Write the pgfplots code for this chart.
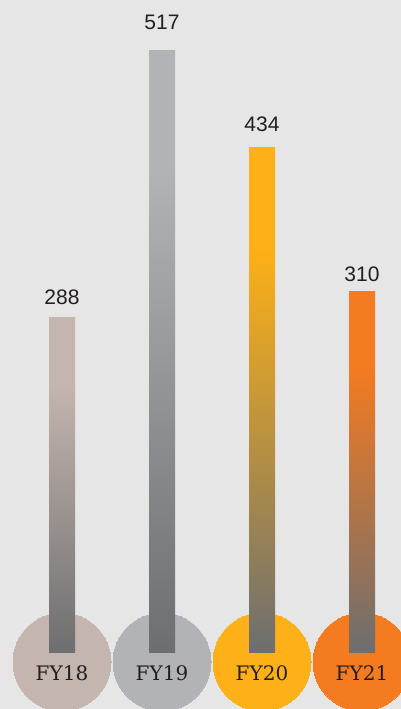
\documentclass[border=0pt]{standalone}
\usepackage{pgfplots}
\pgfplotsset{compat=1.18}
\usepackage{fontspec}
\setmainfont{Liberation Sans}
\newfontfamily\slab{DejaVu Serif}
\definecolor{bg}{HTML}{E6E6E6}
\definecolor{cA}{HTML}{C4B5AE}
\definecolor{cB}{HTML}{B1B3B6}
\definecolor{cC}{HTML}{FDB017}
\definecolor{cD}{HTML}{F47B20}
\definecolor{cbot}{HTML}{6D6E70}
\definecolor{txt}{HTML}{231F20}
\pgfdeclareverticalshading{shA}{100bp}{color(0bp)=(cbot); color(25bp)=(cbot); color(65bp)=(cA); color(100bp)=(cA)}
\pgfdeclareverticalshading{shB}{100bp}{color(0bp)=(cbot); color(25bp)=(cbot); color(65bp)=(cB); color(100bp)=(cB)}
\pgfdeclareverticalshading{shC}{100bp}{color(0bp)=(cbot); color(25bp)=(cbot); color(65bp)=(cC); color(100bp)=(cC)}
\pgfdeclareverticalshading{shD}{100bp}{color(0bp)=(cbot); color(25bp)=(cbot); color(65bp)=(cD); color(100bp)=(cD)}
\begin{document}
\begin{tikzpicture}[x=1pt,y=1pt]
\useasboundingbox (0,0) rectangle (401,709);
\clip (0,0) rectangle (401,709);
\fill[bg] (0,0) rectangle (401,709);
\begin{axis}[at={(0,0)}, anchor=south west, scale only axis,
  width=401pt, height=709pt,
  xmin=-0.62, xmax=3.39, ymin=-48.09, ymax=560.75,
  hide axis, clip=false, clip marker paths=true,
  /pgf/number format/assume math mode=true,
  every node near coord/.style={anchor=south, inner sep=0pt,
     font=\fontsize{21}{25}\selectfont, text=txt},
  vbar/.style={ybar, bar width=26pt, bar shift=0pt, draw=none, nodes near coords},
  circ/.style={draw=none, only marks, mark=*, mark size=49pt, mark options={draw=#1, fill=#1, line width=0pt}}]
\addplot[circ=cA] coordinates {(0,-7.7)};
\addplot[circ=cB] coordinates {(1,-7.7)};
\addplot[circ=cC] coordinates {(2,-7.7)};
\addplot[circ=cD] coordinates {(3,-7.7)};
\addplot[vbar, shade, shading=shA, every node near coord/.append style={yshift=13pt}] coordinates {(0,288)};
\addplot[vbar, shade, shading=shB, every node near coord/.append style={yshift=21pt}] coordinates {(1,517)};
\addplot[vbar, shade, shading=shC, every node near coord/.append style={yshift=16pt}] coordinates {(2,434)};
\addplot[vbar, shade, shading=shD, every node near coord/.append style={yshift=10pt}] coordinates {(3,310)};
\node[text=txt, font=\slab\fontsize{20}{24}\selectfont] at (axis cs:0,-17.2) {FY18};
\node[text=txt, font=\slab\fontsize{20}{24}\selectfont] at (axis cs:1,-17.2) {FY19};
\node[text=txt, font=\slab\fontsize{20}{24}\selectfont] at (axis cs:2,-17.2) {FY20};
\node[text=txt, font=\slab\fontsize{20}{24}\selectfont] at (axis cs:3,-17.2) {FY21};
\end{axis}
\end{tikzpicture}
\end{document}
